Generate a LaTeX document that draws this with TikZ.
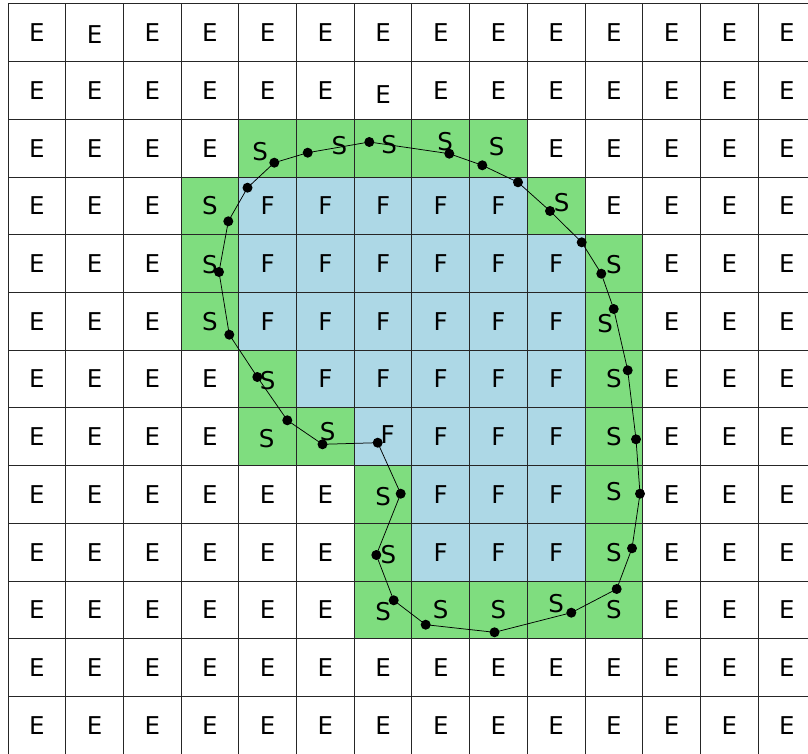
\documentclass[tikz,border=0pt]{standalone}
\usepackage{fontspec}
\setmainfont{DejaVu Sans}
\definecolor{sgreen}{RGB}{127,221,127}
\definecolor{fblue}{RGB}{173,216,230}
\tikzset{
  cellE/.style={},
  cellS/.style={fill=sgreen},
  cellF/.style={fill=fblue},
  lab/.style={inner sep=0pt,font=\fontsize{24.5}{24.5}\selectfont},
  gridline/.style={line width=1pt,draw=black!85},
  contour/.style={line width=0.75pt,draw=black},
  dotmark/.style={fill=black}
}
\begin{document}
\begin{tikzpicture}[x=1pt,y=-1pt]
\useasboundingbox (0,0) rectangle (808,754);
\clip (0,0) rectangle (808,754);
\fill[white] (0,0) rectangle (808,754);
\foreach \row [count=\j from 0] in {%
{E/0/0,E/0/2,E/0/0,E/0/0,E/0/0,E/0/0,E/0/0,E/0/0,E/0/0,E/0/0,E/0/0,E/0/0,E/0/0,E/0/0},%
{E/0/0,E/0/0,E/0/0,E/0/0,E/0/0,E/0/0,E/0/4,E/0/0,E/0/0,E/0/0,E/0/0,E/0/0,E/0/0,E/0/0},%
{E/0/0,E/0/0,E/0/0,E/0/0,S/-7.6/3.1,S/14/-2.5,S/6/-3.5,S/4.3/-6.2,S/-1.8/-1.2,E/0/0,E/0/0,E/0/0,E/0/0,E/0/0},%
{E/0/0,E/0/0,E/0/0,S/0/0,F/0/0,F/0/0,F/0/0,F/0/0,F/0/0,S/5.5/-3.5,E/0/0,E/0/0,E/0/0,E/0/0},%
{E/0/0,E/0/0,E/0/0,S/0/1,F/0/0,F/0/0,F/0/0,F/0/0,F/0/0,F/0/0,S/0/1,E/0/0,E/0/0,E/0/0},%
{E/0/0,E/0/0,E/0/0,S/0/0,F/0/0,F/0/0,F/0/0,F/0/0,F/0/0,F/0/0,S/-8.8/2,E/0/0,E/0/0,E/0/0},%
{E/0/0,E/0/0,E/0/0,E/0/0,S/0/2,F/0/0,F/0/0,F/0/0,F/0/0,F/0/0,S/0/0,E/0/0,E/0/0,E/0/0},%
{E/0/0,E/0/0,E/0/0,E/0/0,S/-1/1.5,S/2.3/-5,F/4.6/-2.5,F/0/0,F/0/0,F/0/0,S/0/0,E/0/0,E/0/0,E/0/0},%
{E/0/0,E/0/0,E/0/0,E/0/0,E/0/0,E/0/0,S/0/2,F/0/0,F/0/0,F/0/0,S/0/-3,E/0/0,E/0/0,E/0/0},%
{E/0/0,E/0/0,E/0/0,E/0/0,E/0/0,E/0/0,S/5.3/2,F/0/0,F/0/0,F/0/0,S/0/0,E/0/0,E/0/0,E/0/0},%
{E/0/0,E/0/0,E/0/0,E/0/0,E/0/0,E/0/0,S/0/2,S/0/0,S/0/0,S/0/-6.5,S/0/0,E/0/0,E/0/0,E/0/0},%
{E/0/0,E/0/0,E/0/0,E/0/0,E/0/0,E/0/0,E/0/0,E/0/0,E/0/0,E/0/0,E/0/0,E/0/0,E/0/0,E/0/0},%
{E/0/0,E/0/0,E/0/0,E/0/0,E/0/0,E/0/0,E/0/0,E/0/0,E/0/0,E/0/0,E/0/0,E/0/0,E/0/0,E/0/0}%
}{
  \foreach \c/\dx/\dy [count=\i from 0] in \row {
    \path[cell\c] ({8+57.7*\i},{4+57.7*\j}) rectangle ++(57.7,57.7);
    \node[lab] (n-\i-\j) at ({8+57.7*\i+28.85+\dx},{4+57.7*\j+28.85+\dy}) {\c};
  }
}
\foreach \i in {0,...,14} \draw[gridline] ({8+57.7*\i},4) -- ++(0,760);
\foreach \j in {0,...,13} \draw[gridline] (8,{4+57.7*\j}) -- ++(820,0);
\foreach \x/\y [count=\k] in {%
369.3/142, 449.3/153.7, 482.3/165.3, 518/182.3, 550/211, 581.7/242.3,
601.3/273.7, 613.7/309, 627.7/370.3, 636/439.3, 640/493.7, 632/548.3,
616.7/589, 571.3/612.7, 494.5/632.3, 425.7/624.7, 393.7/600.3, 376.3/555,
400.7/493.7, 377.7/442.7, 322.5/444.3, 287.3/420.3, 257.3/377, 229.3/334.7,
219/272, 228.3/221.3, 247.5/187.7, 274.3/162.7, 307.7/152.7}
 \coordinate (p\k) at (\x,\y);
\draw[contour] (p1) \foreach \k in {2,...,29}{ -- (p\k)} -- cycle;
\foreach \k in {1,...,29} \fill[dotmark] (p\k) circle (5);
\end{tikzpicture}
\end{document}
